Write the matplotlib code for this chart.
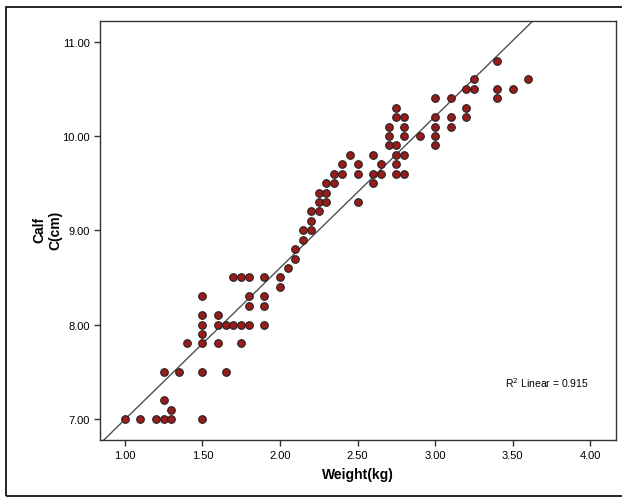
import numpy as np
import matplotlib
matplotlib.use("Agg")
import matplotlib.pyplot as plt
from matplotlib.patches import Rectangle

plt.rcParams["font.family"] = ["Liberation Sans", "DejaVu Sans"]

# weight (kg) / calf circumference (cm), grouped by calf value
calf_levels = [7.0, 7.1, 7.2, 7.5, 7.8, 7.9, 8.0, 8.1, 8.2, 8.3, 8.4, 8.5, 8.6, 8.7,
               8.8, 8.9, 9.0, 9.1, 9.2, 9.3, 9.4, 9.5, 9.6, 9.7, 9.8, 9.9, 10.0,
               10.1, 10.2, 10.3, 10.4, 10.5, 10.6, 10.8]
weights_at_level = [
    [1.00, 1.10, 1.20, 1.25, 1.30, 1.50],
    [1.30],
    [1.25],
    [1.25, 1.35, 1.50, 1.65],
    [1.40, 1.50, 1.60, 1.75],
    [1.50],
    [1.50, 1.60, 1.65, 1.70, 1.75, 1.80, 1.90],
    [1.50, 1.60],
    [1.80, 1.90],
    [1.50, 1.80, 1.90],
    [2.00],
    [1.70, 1.75, 1.80, 1.90, 2.00],
    [2.05],
    [2.10],
    [2.10],
    [2.15],
    [2.15, 2.20],
    [2.20],
    [2.20, 2.25],
    [2.25, 2.30, 2.50],
    [2.25, 2.30],
    [2.30, 2.35, 2.60],
    [2.35, 2.40, 2.50, 2.60, 2.65, 2.75, 2.80],
    [2.40, 2.50, 2.65, 2.75],
    [2.45, 2.60, 2.75, 2.80],
    [2.70, 2.75, 3.00],
    [2.70, 2.80, 2.90, 3.00],
    [2.70, 2.80, 3.00, 3.10],
    [2.75, 2.80, 3.00, 3.10, 3.20],
    [2.75, 3.20],
    [3.00, 3.10, 3.40],
    [3.20, 3.25, 3.40, 3.50],
    [3.25, 3.60],
    [3.40],
]
x_ticks = [1.0, 1.5, 2.0, 2.5, 3.0, 3.5, 4.0]
y_ticks = [7.0, 8.0, 9.0, 10.0, 11.0]
r2_label = "R$^2$ Linear = 0.915"

weight = np.array([w for ws in weights_at_level for w in ws])
calf = np.array([c for c, ws in zip(calf_levels, weights_at_level) for _ in ws])
slope, intercept = np.polyfit(weight, calf, 1)

fig = plt.figure(figsize=(6.22, 5.02), dpi=100)
# outer chart frame
fig.patches.append(Rectangle((6 / 622, 1 - 497 / 502), 1.0, (497 - 8) / 502,
                             transform=fig.transFigure, fill=False,
                             edgecolor="black", linewidth=1.2))
ax = fig.add_axes([99.5 / 622, 1 - 441 / 502, (616 - 99.5) / 622, (441 - 21.7) / 502])

xlim = (0.837, 4.166)
ylim = (6.777, 11.222)
xx = np.array(xlim)
ax.plot(xx, intercept + slope * xx, color="#505050", linewidth=1.0, zorder=2)
ax.scatter(weight, calf, s=30, facecolor="#9b1b1b", edgecolor="#222222",
           linewidth=0.8, zorder=3)

ax.set_xlim(*xlim)
ax.set_ylim(*ylim)
ax.set_xticks(x_ticks)
ax.set_yticks(y_ticks)
ax.set_xticklabels([f"{t:.2f}" for t in x_ticks], fontsize=8)
ax.set_yticklabels([f"{t:.2f}" for t in y_ticks], fontsize=8)
ax.tick_params(direction="out", length=4, width=1, color="#333333", pad=3)
for sp in ax.spines.values():
    sp.set_color("#333333")
    sp.set_linewidth(1.0)

ax.set_xlabel("Weight(kg)", fontsize=10, fontweight="bold", labelpad=5)
ax.set_ylabel("Calf\nC(cm)", fontsize=10, fontweight="bold", va="center")
ax.yaxis.set_label_coords(-0.101, 0.503)
ax.text(3.45, 7.39, r2_label, fontsize=7.5, ha="left", va="center")

fig.savefig("out.png", dpi=100)
